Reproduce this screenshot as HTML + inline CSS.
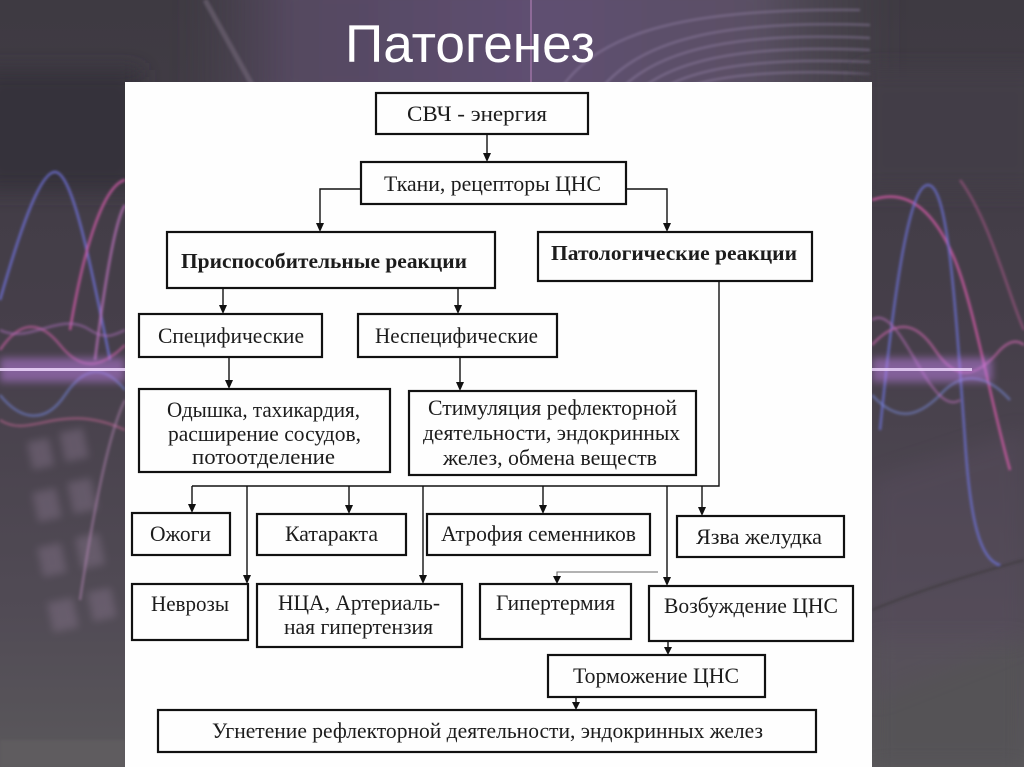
<!DOCTYPE html>
<html><head><meta charset="utf-8"><style>
html,body{margin:0;padding:0;width:1024px;height:767px;overflow:hidden;background:#47434a}
svg{display:block}
.t{font-family:"Liberation Serif","Noto Serif CJK SC",serif;font-size:22px;fill:#1c1c1c}
</style></head><body>
<svg width="1024" height="767" viewBox="0 0 1024 767" xmlns="http://www.w3.org/2000/svg">
<defs>
<linearGradient id="bg" x1="0" y1="0" x2="0" y2="1">
<stop offset="0" stop-color="#3e3a42"/><stop offset="0.45" stop-color="#463f4a"/><stop offset="0.8" stop-color="#514b55"/><stop offset="1" stop-color="#5a585b"/>
</linearGradient>
<linearGradient id="top" x1="0" y1="0" x2="1" y2="0">
<stop offset="0" stop-color="#4a4450" stop-opacity="0"/><stop offset="0.15" stop-color="#54485f"/><stop offset="0.5" stop-color="#5f4f72"/><stop offset="0.8" stop-color="#5a5064"/><stop offset="1" stop-color="#4a484c" stop-opacity="0"/>
</linearGradient>
<filter id="bl" x="-20%" y="-20%" width="140%" height="140%"><feGaussianBlur stdDeviation="1.2"/></filter>
<filter id="bl4" x="-20%" y="-50%" width="140%" height="200%"><feGaussianBlur stdDeviation="4"/></filter>
<filter id="bl8" x="-30%" y="-30%" width="160%" height="160%"><feGaussianBlur stdDeviation="10"/></filter>
</defs>

<!-- background -->
<rect width="1024" height="767" fill="url(#bg)"/>
<rect x="180" y="-20" width="720" height="120" fill="url(#top)" filter="url(#bl8)"/>
<g filter="url(#bl)" opacity="0.5" fill="none" stroke="#9a88ae" stroke-width="2">
<path d="M600,90 C640,40 720,20 870,25"/>
<path d="M620,90 C660,48 740,32 870,38"/>
<path d="M640,90 C680,56 760,45 870,50"/>
<path d="M660,90 C700,64 780,58 870,62"/>
<path d="M680,90 C720,72 800,70 870,74"/>
<path d="M560,90 C600,30 690,8 860,10"/>
<path d="M205,0 L255,90" stroke="#7a6e80" stroke-width="5"/>
</g>
<line x1="531" y1="0" x2="531" y2="82" stroke="#c88ac8" stroke-width="1.5" opacity="0.6"/>
<rect x="0" y="740" width="125" height="27" fill="#5e5c5f" filter="url(#bl)"/>
<rect x="872" y="640" width="152" height="127" fill="#545356" filter="url(#bl8)"/>

<!-- left side decoration -->
<g>
<rect x="-20" y="70" width="160" height="120" fill="#35303a" filter="url(#bl8)"/>
<g opacity="0.4" fill="#8a7890" filter="url(#bl4)">
<rect x="30" y="440" width="22" height="28" transform="rotate(-12 40 455)"/>
<rect x="62" y="430" width="24" height="30" transform="rotate(-12 74 445)"/>
<rect x="35" y="490" width="24" height="30" transform="rotate(-12 47 505)"/>
<rect x="70" y="480" width="24" height="32" transform="rotate(-12 82 495)"/>
<rect x="40" y="545" width="24" height="30" transform="rotate(-12 52 560)"/>
<rect x="78" y="535" width="24" height="32" transform="rotate(-12 90 550)"/>
<rect x="50" y="600" width="26" height="30" transform="rotate(-12 63 615)"/>
<rect x="90" y="590" width="24" height="30" transform="rotate(-12 100 605)"/>
</g>
<g fill="none" filter="url(#bl)" stroke-width="2.5">
<path d="M0,300 C20,230 40,172 55,172 C72,172 90,260 110,360" stroke="#6e70d8" opacity="0.8"/>
<path d="M70,330 C85,240 105,185 125,180" stroke="#d05aa8" opacity="0.8"/>
<path d="M95,360 C105,280 115,220 125,205" stroke="#c878c8" opacity="0.7"/>
<path d="M0,350 C20,320 40,320 60,345 C80,370 100,370 125,345" stroke="#d060a8" opacity="0.6"/>
<path d="M0,395 C20,420 45,425 65,395 C85,365 105,365 125,390" stroke="#7080d0" opacity="0.6"/>
<path d="M0,330 C30,345 60,310 90,330 C105,340 115,335 125,330" stroke="#b070c0" opacity="0.5"/>
<path d="M0,420 C30,440 60,400 125,430" stroke="#d86aa0" opacity="0.45"/>
<path d="M80,600 C95,500 110,430 125,400" stroke="#b888b8" opacity="0.5"/>
</g>
<rect x="0" y="358" width="125" height="24" fill="#c080e8" opacity="0.5" filter="url(#bl4)"/>
<rect x="0" y="368" width="125" height="3" fill="#f0d8ff" opacity="0.85"/>
</g>

<!-- right side decoration -->
<g>
<rect x="860" y="70" width="180" height="120" fill="#433e47" filter="url(#bl8)"/>
<path d="M872,480 L1024,430 L1024,640 L872,700 Z" fill="#5a4e60" opacity="0.35" filter="url(#bl8)"/>
<g fill="none" filter="url(#bl)" stroke-width="2.5">
<path d="M872,200 C900,190 930,200 955,260 C975,310 990,400 1010,470" stroke="#d45aa8" opacity="0.8"/>
<path d="M880,430 C895,280 910,185 928,185 C948,185 955,300 965,440 C970,520 980,560 1000,565" stroke="#6e72d8" opacity="0.75"/>
<path d="M872,345 C895,320 915,320 935,350 C955,380 975,380 1000,350 C1010,340 1018,340 1024,345" stroke="#d068b0" opacity="0.6"/>
<path d="M872,395 C895,420 915,420 940,395 C960,372 985,372 1010,400" stroke="#7888d8" opacity="0.55"/>
<path d="M872,320 C900,300 930,420 960,400" stroke="#c070c0" opacity="0.5"/>
<path d="M960,180 C990,220 1010,300 1024,330" stroke="#c8609c" opacity="0.45"/>
<path d="M872,610 C920,590 970,575 1024,560" stroke="#3e3a40" opacity="0.7"/>
</g>
<rect x="872" y="358" width="120" height="24" fill="#c080e8" opacity="0.5" filter="url(#bl4)"/>
<rect x="872" y="368" width="100" height="3" fill="#f0d8ff" opacity="0.8"/>
</g>

<!-- title -->
<text x="345" y="62" font-family="Liberation Sans, Arial, sans-serif" font-size="53" fill="#ffffff" textLength="250" lengthAdjust="spacingAndGlyphs">Патогенез</text>

<!-- white panel -->
<rect x="125" y="82" width="747" height="685" fill="#fefefe"/>

<!-- boxes -->
<g fill="none" stroke="#111" stroke-width="2.2">
<rect x="376" y="93" width="212" height="41"/>
<rect x="361" y="162" width="265" height="42"/>
<rect x="167" y="232" width="328" height="56"/>
<rect x="538" y="232" width="274" height="49"/>
<rect x="139" y="314" width="183" height="43"/>
<rect x="358" y="314" width="199" height="43"/>
<rect x="139" y="389" width="251" height="83"/>
<rect x="409" y="391" width="287" height="84"/>
<rect x="132" y="513" width="98" height="42"/>
<rect x="257" y="514" width="149" height="41"/>
<rect x="427" y="514" width="223" height="41"/>
<rect x="677" y="516" width="167" height="41"/>
<rect x="132" y="584" width="116" height="56"/>
<rect x="257" y="584" width="205" height="63"/>
<rect x="480" y="584" width="151" height="55"/>
<rect x="649" y="586" width="204" height="55"/>
<rect x="548" y="655" width="217" height="42"/>
<rect x="158" y="710" width="658" height="42"/>
</g>

<!-- connectors -->
<g fill="none" stroke="#111" stroke-width="1.4">
<line x1="487" y1="134" x2="487" y2="155"/>
<polyline points="361,189 320,189 320,225"/>
<polyline points="626,189 667,189 667,225"/>
<line x1="223" y1="288" x2="223" y2="307"/>
<line x1="458" y1="288" x2="458" y2="307"/>
<line x1="229" y1="357" x2="229" y2="382"/>
<line x1="460" y1="357" x2="460" y2="384"/>
<polyline points="719,281 719,486 192,486"/>
<line x1="192" y1="486" x2="192" y2="506"/>
<line x1="349" y1="486" x2="349" y2="507"/>
<line x1="543" y1="486" x2="543" y2="507"/>
<line x1="702" y1="486" x2="702" y2="509"/>
<line x1="247" y1="486" x2="247" y2="577"/>
<line x1="423" y1="486" x2="423" y2="577"/>
<line x1="667" y1="486" x2="667" y2="578"/>
<line x1="668" y1="641" x2="668" y2="648"/>
<line x1="576" y1="697" x2="576" y2="703"/>
</g>
<polyline points="658,572 557,572 557,577" fill="none" stroke="#666" stroke-width="1.1"/>
<g fill="#111">
<polygon points="483,153 491,153 487,162"/>
<polygon points="316,223 324,223 320,232"/>
<polygon points="663,223 671,223 667,232"/>
<polygon points="219,305 227,305 223,314"/>
<polygon points="454,305 462,305 458,314"/>
<polygon points="225,380 233,380 229,389"/>
<polygon points="456,382 464,382 460,391"/>
<polygon points="188,504 196,504 192,513"/>
<polygon points="345,505 353,505 349,514"/>
<polygon points="539,505 547,505 543,514"/>
<polygon points="698,507 706,507 702,516"/>
<polygon points="243,575 251,575 247,584"/>
<polygon points="419,575 427,575 423,584"/>
<polygon points="663,577 671,577 667,586"/>
<polygon points="553,576 561,576 557,584"/>
<polygon points="664,647 672,647 668,655"/>
<polygon points="572,702 580,702 576,710"/>
</g>

<!-- labels -->
<g class="t">
<text x="407" y="121" textLength="140" lengthAdjust="spacingAndGlyphs">СВЧ - энергия</text>
<text x="384" y="191" textLength="217" lengthAdjust="spacingAndGlyphs">Ткани, рецепторы ЦНС</text>
<text x="181" y="268" textLength="286" lengthAdjust="spacingAndGlyphs" font-weight="bold" font-size="21">Приспособительные реакции</text>
<text x="551" y="260" textLength="246" lengthAdjust="spacingAndGlyphs" font-weight="bold" font-size="21">Патологические реакции</text>
<text x="158" y="343" textLength="146" lengthAdjust="spacingAndGlyphs">Специфические</text>
<text x="375" y="343" textLength="163" lengthAdjust="spacingAndGlyphs">Неспецифические</text>
<text x="167" y="417" textLength="193" lengthAdjust="spacingAndGlyphs">Одышка, тахикардия,</text>
<text x="168" y="441" textLength="193" lengthAdjust="spacingAndGlyphs">расширение сосудов,</text>
<text x="192" y="464" textLength="143" lengthAdjust="spacingAndGlyphs">потоотделение</text>
<text x="428" y="415" textLength="249" lengthAdjust="spacingAndGlyphs">Стимуляция рефлекторной</text>
<text x="423" y="440" textLength="257" lengthAdjust="spacingAndGlyphs">деятельности, эндокринных</text>
<text x="443" y="465" textLength="214" lengthAdjust="spacingAndGlyphs">желез, обмена веществ</text>
<text x="150" y="541" textLength="61" lengthAdjust="spacingAndGlyphs">Ожоги</text>
<text x="285" y="541" textLength="93" lengthAdjust="spacingAndGlyphs">Катаракта</text>
<text x="441" y="541" textLength="195" lengthAdjust="spacingAndGlyphs">Атрофия семенников</text>
<text x="696" y="544" textLength="126" lengthAdjust="spacingAndGlyphs">Язва желудка</text>
<text x="151" y="611" textLength="78" lengthAdjust="spacingAndGlyphs">Неврозы</text>
<text x="278" y="610" textLength="162" lengthAdjust="spacingAndGlyphs">НЦА, Артериаль-</text>
<text x="284" y="634" textLength="149" lengthAdjust="spacingAndGlyphs">ная гипертензия</text>
<text x="496" y="610" textLength="119" lengthAdjust="spacingAndGlyphs">Гипертермия</text>
<text x="664" y="613" textLength="174" lengthAdjust="spacingAndGlyphs">Возбуждение ЦНС</text>
<text x="573" y="683" textLength="166" lengthAdjust="spacingAndGlyphs">Торможение ЦНС</text>
<text x="212" y="738" textLength="551" lengthAdjust="spacingAndGlyphs">Угнетение рефлекторной деятельности, эндокринных желез</text>
</g>
</svg>
</body></html>
